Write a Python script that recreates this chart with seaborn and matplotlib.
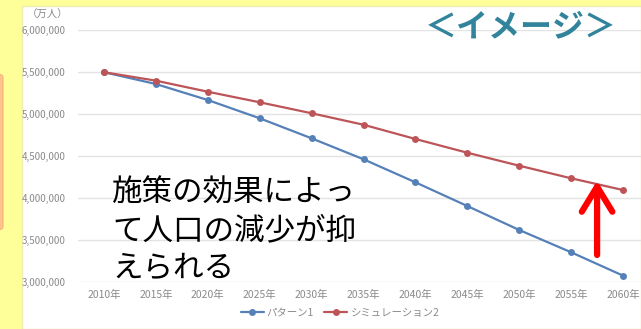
import numpy as np
import pandas as pd
import matplotlib
matplotlib.use("Agg")
import matplotlib.pyplot as plt
from matplotlib.patches import Rectangle, FancyBboxPatch
import seaborn as sns

# ---- data ----
years = ["2010年", "2015年", "2020年", "2025年", "2030年", "2035年",
         "2040年", "2045年", "2050年", "2055年", "2060年"]
pattern1 = [5500000, 5359000, 5168000, 4950000, 4711000, 4461000,
            4186000, 3903000, 3617000, 3351000, 3072000]
simulation2 = [5500000, 5399000, 5267000, 5141000, 5010000, 4873000,
               4703000, 4539000, 4384000, 4234000, 4094000]
series_names = ["パターン1", "シミュレーション2"]
y_ticks = [3000000, 3500000, 4000000, 4500000, 5000000, 5500000, 6000000]
unit_label = "（万人）"
title_text = "＜イメージ＞"
note_text = "施策の効果によっ\nて人口の減少が抑\nえられる"

df = pd.DataFrame({
    "idx": list(range(len(years))) * 2,
    "value": pattern1 + simulation2,
    "series": [series_names[0]] * len(years) + [series_names[1]] * len(years),
})

sns.set_style("white")
plt.rcParams["font.family"] = ["Noto Sans CJK JP", "DejaVu Sans"]

W, H = 641, 329
fig = plt.figure(figsize=(W / 100, H / 100), dpi=100)
fig.patch.set_facecolor("#FFFF99")

def fx(px):
    return px / W

def fy(py):
    return 1 - py / H

# white chart area
fig.patches.append(Rectangle((fx(22), 0), fx(W - 22), (H - 6) / H,
                             transform=fig.transFigure, facecolor="white",
                             edgecolor="#EDEDB0", linewidth=1.0, zorder=-10))
# peach box at left edge
fig.patches.append(FancyBboxPatch((fx(-10), fy(230)), fx(13), (230 - 74) / H,
                                  boxstyle="round,pad=0,rounding_size=0.01",
                                  transform=fig.transFigure, facecolor="#FFC38C",
                                  edgecolor="#F5B37A", linewidth=0.8, zorder=-5))

left_px, right_px = 78, 649
ax = fig.add_axes([fx(left_px), fy(281.7), fx(right_px - left_px), (281.7 - 30.3) / H])
ax.set_facecolor("none")
ax.set_zorder(2)

palette = {series_names[0]: "#5580B8", series_names[1]: "#BD5558"}
sns.lineplot(data=df, x="idx", y="value", hue="series", palette=palette,
             marker="o", markersize=5, markeredgewidth=0, linewidth=1.6,
             ax=ax, zorder=3)

ax.set_xlim(-0.5, len(years) - 0.5)
ax.set_ylim(y_ticks[0], y_ticks[-1])
ax.set_yticks(y_ticks)
ax.set_yticklabels([f"{v:,}" for v in y_ticks])
ax.set_xticks(range(len(years)))
ax.set_xticklabels(years)
ax.grid(axis="y", color="#E3E3E3", linewidth=1.0)
ax.grid(axis="x", visible=False)
ax.set_axisbelow(True)
for s in ax.spines.values():
    s.set_visible(False)
ax.tick_params(axis="y", length=0, pad=9, labelsize=7, labelcolor="#8A8A8A")
ax.tick_params(axis="x", length=0, pad=6, labelsize=7.5, labelcolor="#8A8A8A")
ax.set_xlabel("")
ax.set_ylabel("")

handles, labels = ax.get_legend_handles_labels()
ax.get_legend().remove()
fig.legend(handles, labels, loc="center", bbox_to_anchor=(fx(340), fy(313)),
           ncol=2, frameon=False, fontsize=7.5, labelcolor="#8A8A8A",
           handlelength=2.2, handletextpad=0.3, columnspacing=1.0)

fig.text(fx(27), fy(15), unit_label, fontsize=7.5, color="#8A8A8A",
         ha="left", va="center")

fig.text(fx(521), fy(27), title_text, fontsize=23, fontweight="bold",
         color="#31849B", ha="center", va="center")

fig.text(fx(112), fy(178), note_text, fontsize=22, color="black",
         ha="left", va="top", linespacing=1.27, zorder=5)

ax.annotate("", xy=(9.5, 4205000), xytext=(9.5, 3319000),
            arrowprops=dict(arrowstyle="->,head_length=0.9,head_width=0.55",
                            color="#FF0000", lw=4.5, mutation_scale=20,
                            shrinkA=0, shrinkB=0), zorder=5)

fig.savefig("out.png", dpi=100, facecolor=fig.get_facecolor())
